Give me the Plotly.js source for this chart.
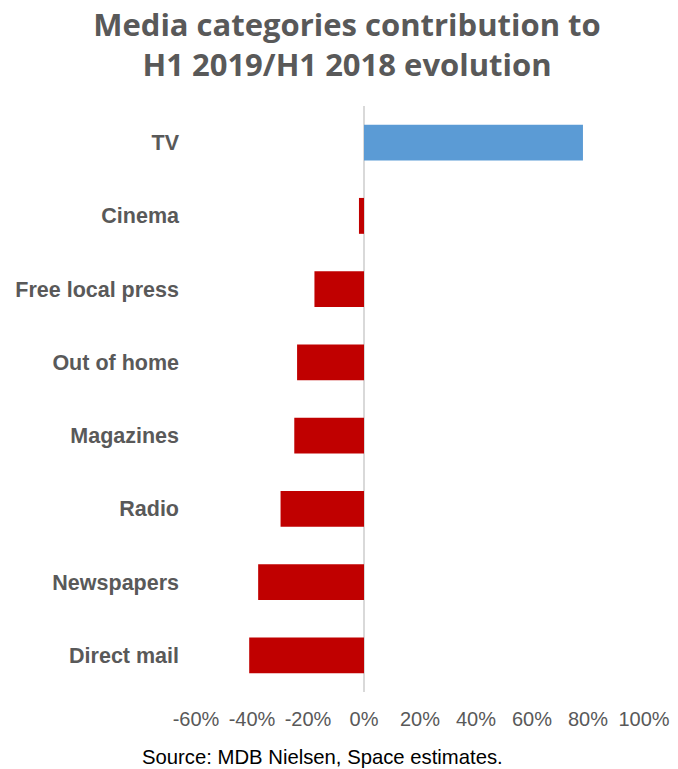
<!DOCTYPE html>
<html>
<head>
<meta charset="utf-8">
<script src="https://cdn.plot.ly/plotly-3.0.1.min.js"></script>
<style>html,body{margin:0;padding:0;background:#fff;}#chart{width:678px;height:769px;}</style>
</head>
<body>
<div id="chart"></div>
<script>
var categories = ["TV", "Cinema", "Free local press", "Out of home", "Magazines", "Radio", "Newspapers", "Direct mail"];
var values = [0.782, -0.018, -0.177, -0.239, -0.249, -0.298, -0.378, -0.41];
var tickValues = [-0.6, -0.4, -0.2, 0, 0.2, 0.4, 0.6, 0.8, 1.0];
var tickLabels = ["-60%", "-40%", "-20%", "0%", "20%", "40%", "60%", "80%", "100%"];
var titleText = "Media categories contribution to<br>H1 2019/H1 2018 evolution";
var sourceText = "Source: MDB Nielsen, Space estimates.";

var colors = values.map(function (v) { return v >= 0 ? "#5b9bd5" : "#c00000"; });

var trace = {
  type: "bar",
  orientation: "h",
  y: categories,
  x: values,
  width: 0.49,
  marker: { color: colors },
  hoverinfo: "x+y"
};

var layout = {
  width: 678,
  height: 769,
  margin: { l: 196, r: 34, t: 106, b: 77 },
  paper_bgcolor: "#ffffff",
  plot_bgcolor: "#ffffff",
  showlegend: false,
  title: {
    text: titleText,
    xref: "paper",
    x: (347 - 196) / 448,
    xanchor: "center",
    yref: "container",
    y: 1 - 36 / 769,
    yanchor: "middle",
    font: { family: "Open Sans, Lato, sans-serif", size: 31, color: "#595959", weight: 700 }
  },
  xaxis: {
    range: [-0.6, 1.0],
    tickvals: tickValues,
    ticktext: tickLabels,
    showgrid: false,
    zeroline: true,
    zerolinecolor: "#d9d9d9",
    zerolinewidth: 2,
    showline: false,
    ticks: "",
    ticklabelstandoff: 13,
    tickfont: { family: "Liberation Sans, Arial, sans-serif", size: 20, color: "#595959" },
    fixedrange: true
  },
  yaxis: {
    autorange: "reversed",
    showgrid: false,
    zeroline: false,
    showline: false,
    ticks: "",
    ticklabelstandoff: 16,
    tickfont: { family: "Liberation Sans, Arial, sans-serif", size: 21.5, color: "#595959", weight: 700 },
    fixedrange: true
  },
  annotations: [{
    text: sourceText,
    xref: "paper",
    yref: "paper",
    x: (322 - 196) / 448,
    xanchor: "center",
    y: -(757 - 692) / 586,
    yanchor: "middle",
    showarrow: false,
    font: { family: "Liberation Sans, Arial, sans-serif", size: 20.3, color: "#000000" }
  }]
};

Plotly.newPlot("chart", [trace], layout, { displayModeBar: false, staticPlot: true });
</script>
</body>
</html>
